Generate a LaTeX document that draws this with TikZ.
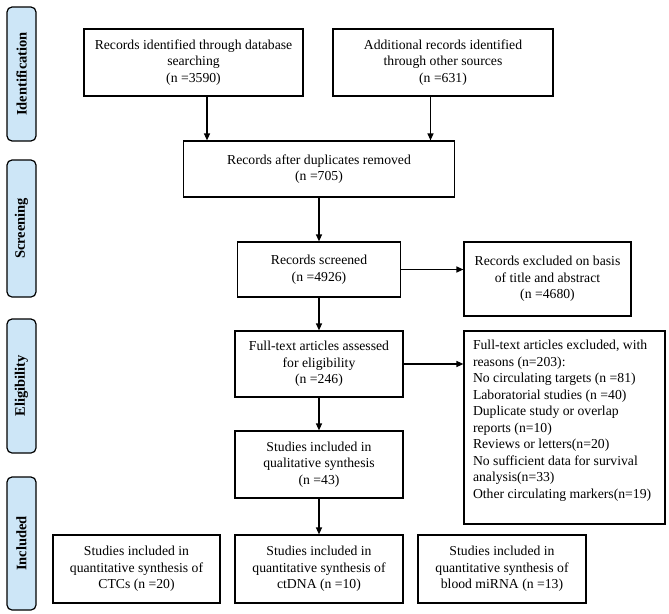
\documentclass[tikz,border=0pt]{standalone}
\usepackage{fontspec}
\setmainfont{Liberation Serif}
\usetikzlibrary{arrows.meta}
\definecolor{stageblue}{HTML}{CDE6F7}

\begin{document}
\begin{tikzpicture}[x=1pt,y=-1pt]
        \useasboundingbox (0,0) rectangle (669,613);
        \begin{scope}[every node/.style={draw,rounded corners=5pt,fill=stageblue,line width=1.2pt,rotate=90,minimum height=29,inner sep=0pt,font=\fontsize{14.5}{16}\selectfont\bfseries}]
            \node[minimum width=134] (s1) at (21.5,74) {Identification};
            \node[minimum width=137] (s2) at (21.5,228.5) {Screening};
            \node[minimum width=134] (s3) at (21.5,386) {Eligibility};
            \node[minimum width=133] (s4) at (21.5,543.5) {Included};
        \end{scope}
        \begin{scope}[every node/.style={draw,line width=1.2pt,align=center,inner sep=2pt,font=\fontsize{13.7}{16.5}\selectfont}]
            \node[minimum width=219,minimum height=67] (1) at (193.5,62.5) {Records identified through database\\searching\\(n =3590)};
            \node[minimum width=220,minimum height=67] (2) at (443,62.5) {Additional records identified\\through other sources\\(n =631)};
            \node[minimum width=271,minimum height=56] (3) at (319,169) {Records after duplicates removed\\(n =705)};
            \node[minimum width=163,minimum height=55] (4) at (319,269.5) {Records screened\\(n =4926)};
            \node[minimum width=167,minimum height=74] (5) at (547.5,279) {Records excluded on basis\\of title and abstract\\(n =4680)};
            \node[minimum width=168,minimum height=66] (6) at (319,364) {Full-text articles assessed\\for eligibility\\(n =246)};
            \node[minimum width=201,minimum height=193,inner sep=0pt] (7) at (564.5,427.5) {\parbox[c][175pt][t]{183pt}{\raggedright Full-text articles excluded, with\\reasons (n=203):\\No circulating targets (n =81)\\Laboratorial studies (n =40)\\Duplicate study or overlap\\reports (n=10)\\Reviews or letters(n=20)\\No sufficient data for survival\\analysis(n=33)\\Other circulating markers(n=19)}};
            \node[minimum width=168,minimum height=67] (8) at (319,464.5) {Studies included in\\qualitative synthesis\\(n =43)};
            \node[minimum width=167,minimum height=68] (9) at (136.5,569) {Studies included in\\quantitative synthesis of\\CTCs (n =20)};
            \node[minimum width=168,minimum height=68] (10) at (319,569) {Studies included in\\quantitative synthesis of\\ctDNA (n =10)};
            \node[minimum width=168,minimum height=68] (11) at (502,569) {Studies included in\\quantitative synthesis of\\blood miRNA (n =13)};
        \end{scope}
        \begin{scope}[every edge/.style={draw,line width=1.2pt,-{Triangle[length=7pt,width=6pt]}}]
            \path
                ([xshift=13.5]1.south) edge ([xshift=13.5]1.south |- 3.north)
                ([xshift=-12.5]2.south) edge ([xshift=-12.5]2.south |- 3.north);
            \path
                (3) edge (4)
                (4.east) edge (4.east -| 5.west);
            \path
                (4) edge (6)
                (6.east) edge (6.east -| 7.west)
                (6) edge (8)
                (8) edge (10);
        \end{scope}
    \end{tikzpicture}
\end{document}
